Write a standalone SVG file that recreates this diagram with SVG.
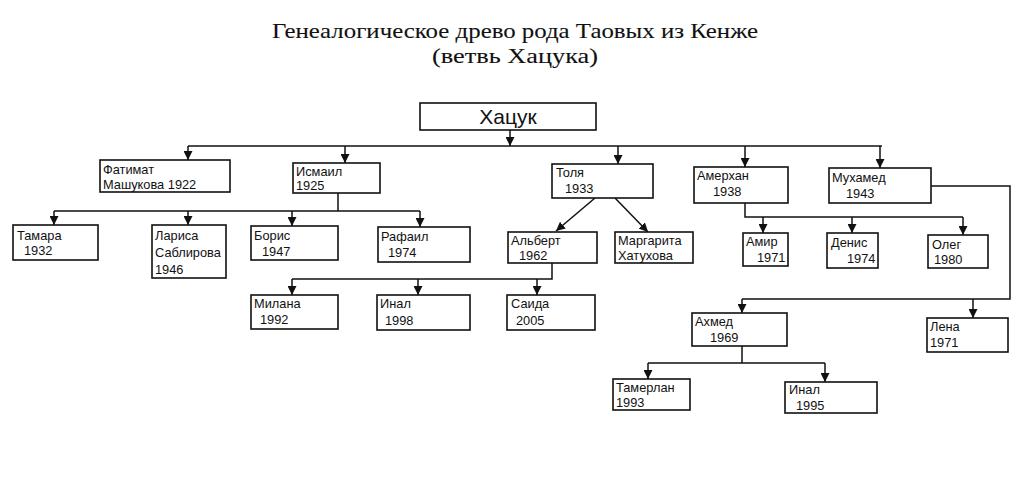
<svg xmlns="http://www.w3.org/2000/svg" width="1024" height="493" viewBox="0 0 1024 493">
<style>
.box{fill:#fff;stroke:#111;stroke-width:1.6}
.t{font-family:"Liberation Sans",Arial,sans-serif;font-size:12.8px;fill:#111}
.title{font-family:"Liberation Serif","Times New Roman",serif;font-size:22px;fill:#111;stroke:#111;stroke-width:0.1}
.c{fill:none;stroke:#111;stroke-width:1.5}
</style>
<defs>
<marker id="ah" viewBox="0 0 10 10" refX="10" refY="5" markerWidth="9" markerHeight="9" markerUnits="userSpaceOnUse" orient="auto">
<path d="M0,0 L10,5 L0,10 z" fill="#111"/>
</marker>
</defs>
<rect width="1024" height="493" fill="#fff"/>
<text class="title" x="272" y="38" textLength="486" lengthAdjust="spacingAndGlyphs">Генеалогическое древо рода Таовых из Кенже</text>
<text class="title" x="432" y="63" textLength="166" lengthAdjust="spacingAndGlyphs">(ветвь Хацука)</text>

<g id="connectors" class="c">
<path d="M510,130 V146" marker-end="url(#ah)"/>
<path d="M188,146 H882"/>
<path d="M188,146 V160" marker-end="url(#ah)"/>
<path d="M345,146 V163" marker-end="url(#ah)"/>
<path d="M618,146 V164" marker-end="url(#ah)"/>
<path d="M745,146 V167" marker-end="url(#ah)"/>
<path d="M880,146 V168" marker-end="url(#ah)"/>
<path d="M338,193 V211 M54,211 H420"/>
<path d="M54,211 V225" marker-end="url(#ah)"/>
<path d="M188,211 V225" marker-end="url(#ah)"/>
<path d="M292,211 V226" marker-end="url(#ah)"/>
<path d="M420,211 V227" marker-end="url(#ah)"/>
<path d="M595,198 L556,231" marker-end="url(#ah)"/>
<path d="M615,198 L648,232" marker-end="url(#ah)"/>
<path d="M552,263 V279 H292"/>
<path d="M292,279 V295" marker-end="url(#ah)"/>
<path d="M418,279 V295" marker-end="url(#ah)"/>
<path d="M537,279 V295" marker-end="url(#ah)"/>
<path d="M745,203 V217 H963"/>
<path d="M763,217 V233" marker-end="url(#ah)"/>
<path d="M852,217 V233" marker-end="url(#ah)"/>
<path d="M963,217 V235" marker-end="url(#ah)"/>
<path d="M931,186 H1010 V299 H742"/>
<path d="M742,299 V313" marker-end="url(#ah)"/>
<path d="M973,299 V318" marker-end="url(#ah)"/>
<path d="M742,346 V363 M648,363 H825"/>
<path d="M648,363 V379" marker-end="url(#ah)"/>
<path d="M825,363 V382" marker-end="url(#ah)"/>
</g>

<g id="khatsuk"><rect class="box" x="420" y="103" width="176" height="27"/><text x="508" y="124" text-anchor="middle" style="font-family:'Liberation Sans',Arial,sans-serif;font-size:21px;fill:#111">Хацук</text></g>
<g id="fatimat"><rect class="box" x="100" y="160" width="130" height="32"/><text class="t" x="103" y="174">Фатимат</text><text class="t" x="103" y="189">Машукова 1922</text></g>
<g id="ismail"><rect class="box" x="293" y="163" width="87" height="30"/><text class="t" x="296" y="176">Исмаил</text><text class="t" x="296" y="190">1925</text></g>
<g id="tolya"><rect class="box" x="552" y="164" width="101" height="34"/><text class="t" x="556" y="177">Толя</text><text class="t" x="565" y="193">1933</text></g>
<g id="amerkhan"><rect class="box" x="694" y="167" width="94" height="36"/><text class="t" x="697" y="180">Амерхан</text><text class="t" x="713" y="196">1938</text></g>
<g id="mukhamed"><rect class="box" x="829" y="168" width="102" height="35"/><text class="t" x="832" y="182">Мухамед</text><text class="t" x="846" y="198">1943</text></g>

<g id="tamara"><rect class="box" x="13" y="225" width="85" height="35"/><text class="t" x="17" y="240">Тамара</text><text class="t" x="24" y="255">1932</text></g>
<g id="larisa"><rect class="box" x="152" y="225" width="74" height="53"/><text class="t" x="155" y="240">Лариса</text><text class="t" x="155" y="257">Саблирова</text><text class="t" x="155" y="274">1946</text></g>
<g id="boris"><rect class="box" x="251" y="226" width="87" height="34"/><text class="t" x="254" y="240">Борис</text><text class="t" x="262" y="256">1947</text></g>
<g id="rafail"><rect class="box" x="378" y="227" width="92" height="35"/><text class="t" x="381" y="241">Рафаил</text><text class="t" x="388" y="257">1974</text></g>
<g id="albert"><rect class="box" x="508" y="232" width="89" height="31"/><text class="t" x="511" y="245">Альберт</text><text class="t" x="519" y="260">1962</text></g>
<g id="margarita"><rect class="box" x="615" y="232" width="78" height="31"/><text class="t" x="618" y="245">Маргарита</text><text class="t" x="618" y="260">Хатухова</text></g>
<g id="amir"><rect class="box" x="743" y="233" width="45" height="33"/><text class="t" x="746" y="246">Амир</text><text class="t" x="757" y="262">1971</text></g>
<g id="denis"><rect class="box" x="827" y="233" width="51" height="35"/><text class="t" x="831" y="247">Денис</text><text class="t" x="847" y="263">1974</text></g>
<g id="oleg"><rect class="box" x="928" y="235" width="60" height="33"/><text class="t" x="932" y="249">Олег</text><text class="t" x="934" y="264">1980</text></g>

<g id="milana"><rect class="box" x="251" y="295" width="87" height="34"/><text class="t" x="254" y="308">Милана</text><text class="t" x="260" y="324">1992</text></g>
<g id="inal1"><rect class="box" x="377" y="295" width="93" height="35"/><text class="t" x="380" y="308">Инал</text><text class="t" x="385" y="325">1998</text></g>
<g id="saida"><rect class="box" x="507" y="295" width="88" height="35"/><text class="t" x="511" y="308">Саида</text><text class="t" x="516" y="325">2005</text></g>
<g id="akhmed"><rect class="box" x="692" y="313" width="95" height="33"/><text class="t" x="695" y="326">Ахмед</text><text class="t" x="710" y="342">1969</text></g>
<g id="lena"><rect class="box" x="927" y="318" width="81" height="34"/><text class="t" x="930" y="331">Лена</text><text class="t" x="930" y="347">1971</text></g>
<g id="tamerlan"><rect class="box" x="613" y="379" width="77" height="31"/><text class="t" x="616" y="392">Тамерлан</text><text class="t" x="616" y="407">1993</text></g>
<g id="inal2"><rect class="box" x="785" y="382" width="92" height="31"/><text class="t" x="789" y="394">Инал</text><text class="t" x="796" y="410">1995</text></g>
</svg>
